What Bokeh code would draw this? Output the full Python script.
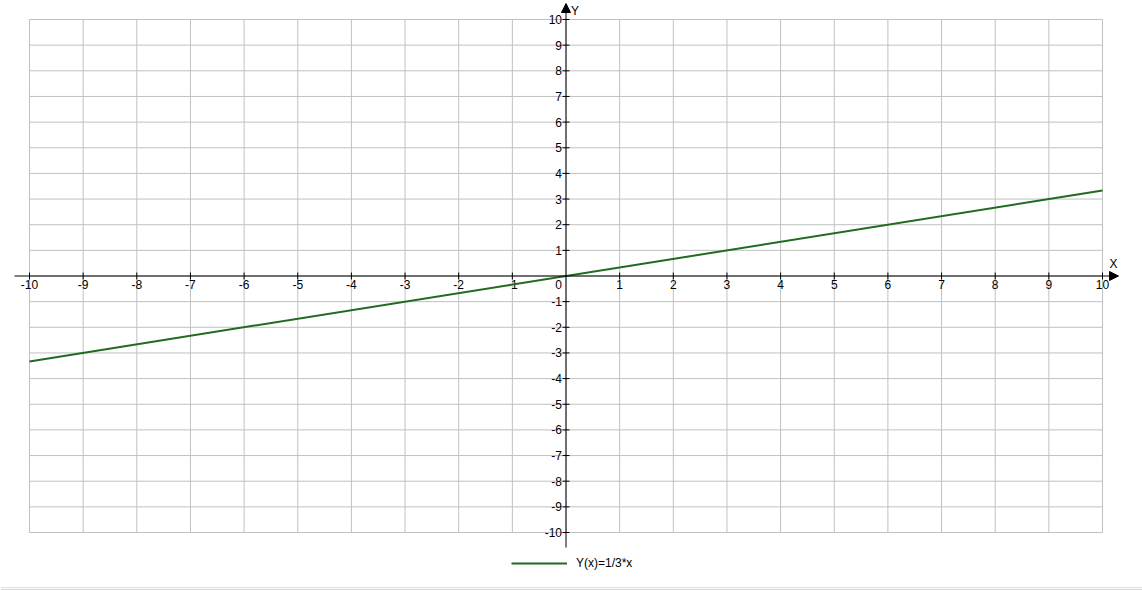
from bokeh.plotting import figure
from bokeh.models import Range1d, Legend, LegendItem, Span, Arrow, NormalHead
from bokeh.core.properties import value
from bokeh.embed import file_html
from bokeh.resources import INLINE

# ---- data ----
line_x = [-10, 10]
line_y = [-3.33, 3.33]
series_label = "Y(x)=1/3*x"
x_ticks = [-10, -9, -8, -7, -6, -5, -4, -3, -2, -1, 1, 2, 3, 4, 5, 6, 7, 8, 9, 10]
y_ticks = [-10, -9, -8, -7, -6, -5, -4, -3, -2, -1, 1, 2, 3, 4, 5, 6, 7, 8, 9, 10]
x_tick_labels = [str(v) for v in x_ticks]
y_tick_labels = [str(v) for v in y_ticks]
grid_vals = list(range(-10, 11))

# ---- layout (screen geometry) ----
W, H = 1142, 590
OFF = 0
PX_X0, PX_X1 = 29, 1102     # pixel of x=-10, x=10
PX_Y0, PX_Y1 = 19, 532      # pixel of y=10, y=-10
sx = (PX_X1 - PX_X0) / 20.0
sy = (PX_Y1 - PX_Y0) / 20.0

def px2x(px):
    return -10 + (px - PX_X0) / sx

def px2y(py):
    return 10 - (py - PX_Y0) / sy

FONT = "Liberation Sans"
GREEN = "#1f6b1f"
GRID = "#c0c0c0"

p = figure(width=W, height=H, output_backend="svg", toolbar_location=None,
           x_range=Range1d(px2x(OFF), px2x(OFF + W)),
           y_range=Range1d(px2y(OFF + H), px2y(OFF)),
           min_border=0, min_border_left=0, min_border_right=0,
           min_border_top=0, min_border_bottom=0)
p.axis.visible = False
p.xgrid.visible = False
p.ygrid.visible = False
p.outline_line_color = None
p.background_fill_color = "white"
p.border_fill_color = "white"

# grid
p.segment(x0=grid_vals, y0=[-10] * len(grid_vals), x1=grid_vals, y1=[10] * len(grid_vals),
          line_color=GRID, line_width=1)
p.segment(x0=[-10] * len(grid_vals), y0=grid_vals, x1=[10] * len(grid_vals), y1=grid_vals,
          line_color=GRID, line_width=1)

# axes with arrows
p.add_layout(Arrow(x_start=px2x(14), y_start=0, x_end=px2x(1118), y_end=0,
                   line_color="black", line_width=1,
                   end=NormalHead(size=9, line_color="black", fill_color="black", line_width=1)))
p.add_layout(Arrow(x_start=0, y_start=px2y(547), x_end=0, y_end=px2y(3),
                   line_color="black", line_width=1,
                   end=NormalHead(size=9, line_color="black", fill_color="black", line_width=1)))

# ticks
p.scatter(x=x_ticks, y=[0] * len(x_ticks), marker="dash", size=7, angle=1.5708,
          line_color="black", line_width=1)
p.scatter(x=[0] * len(y_ticks), y=y_ticks, marker="dash", size=7,
          line_color="black", line_width=1)

# tick labels
p.text(x=x_ticks, y=[0] * len(x_ticks), text=x_tick_labels, text_align="center",
       text_baseline="top", y_offset=4, text_font=value(FONT), text_font_size="12px",
       text_color="black")
p.text(x=[0] * len(y_ticks), y=y_ticks, text=y_tick_labels, text_align="right",
       text_baseline="middle", x_offset=-4, text_font=value(FONT), text_font_size="12px",
       text_color="black")
p.text(x=[0], y=[0], text=["0"], text_align="right", text_baseline="top",
       x_offset=-4, y_offset=4, text_font=value(FONT), text_font_size="12px", text_color="black")

# axis names
p.text(x=[0], y=[px2y(10)], text=["Y"], text_align="left", text_baseline="middle",
       x_offset=5, text_font=value(FONT), text_font_size="12px", text_color="black")
p.text(x=[px2x(1113)], y=[0], text=["X"], text_align="center", text_baseline="bottom",
       y_offset=-5, text_font=value(FONT), text_font_size="12px", text_color="black")

# data line
r = p.line(x=line_x, y=line_y, line_color=GREEN, line_width=2)

# bottom rule
p.add_layout(Span(location=px2y(587), dimension="width", line_color="#e0e0e0", line_width=1))
p.add_layout(Span(location=px2y(589), dimension="width", line_color="#d6d6d6", line_width=1))

legend = Legend(items=[LegendItem(label=series_label, renderers=[r])],
                location=(511, 17), orientation="horizontal",
                glyph_width=56, glyph_height=20, label_standoff=9,
                padding=0, margin=0, border_line_color=None,
                background_fill_alpha=0,
                label_text_font=FONT, label_text_font_size="12px",
                label_text_color="black")
p.add_layout(legend, "center")

open("out.html", "w").write(file_html(p, INLINE))
